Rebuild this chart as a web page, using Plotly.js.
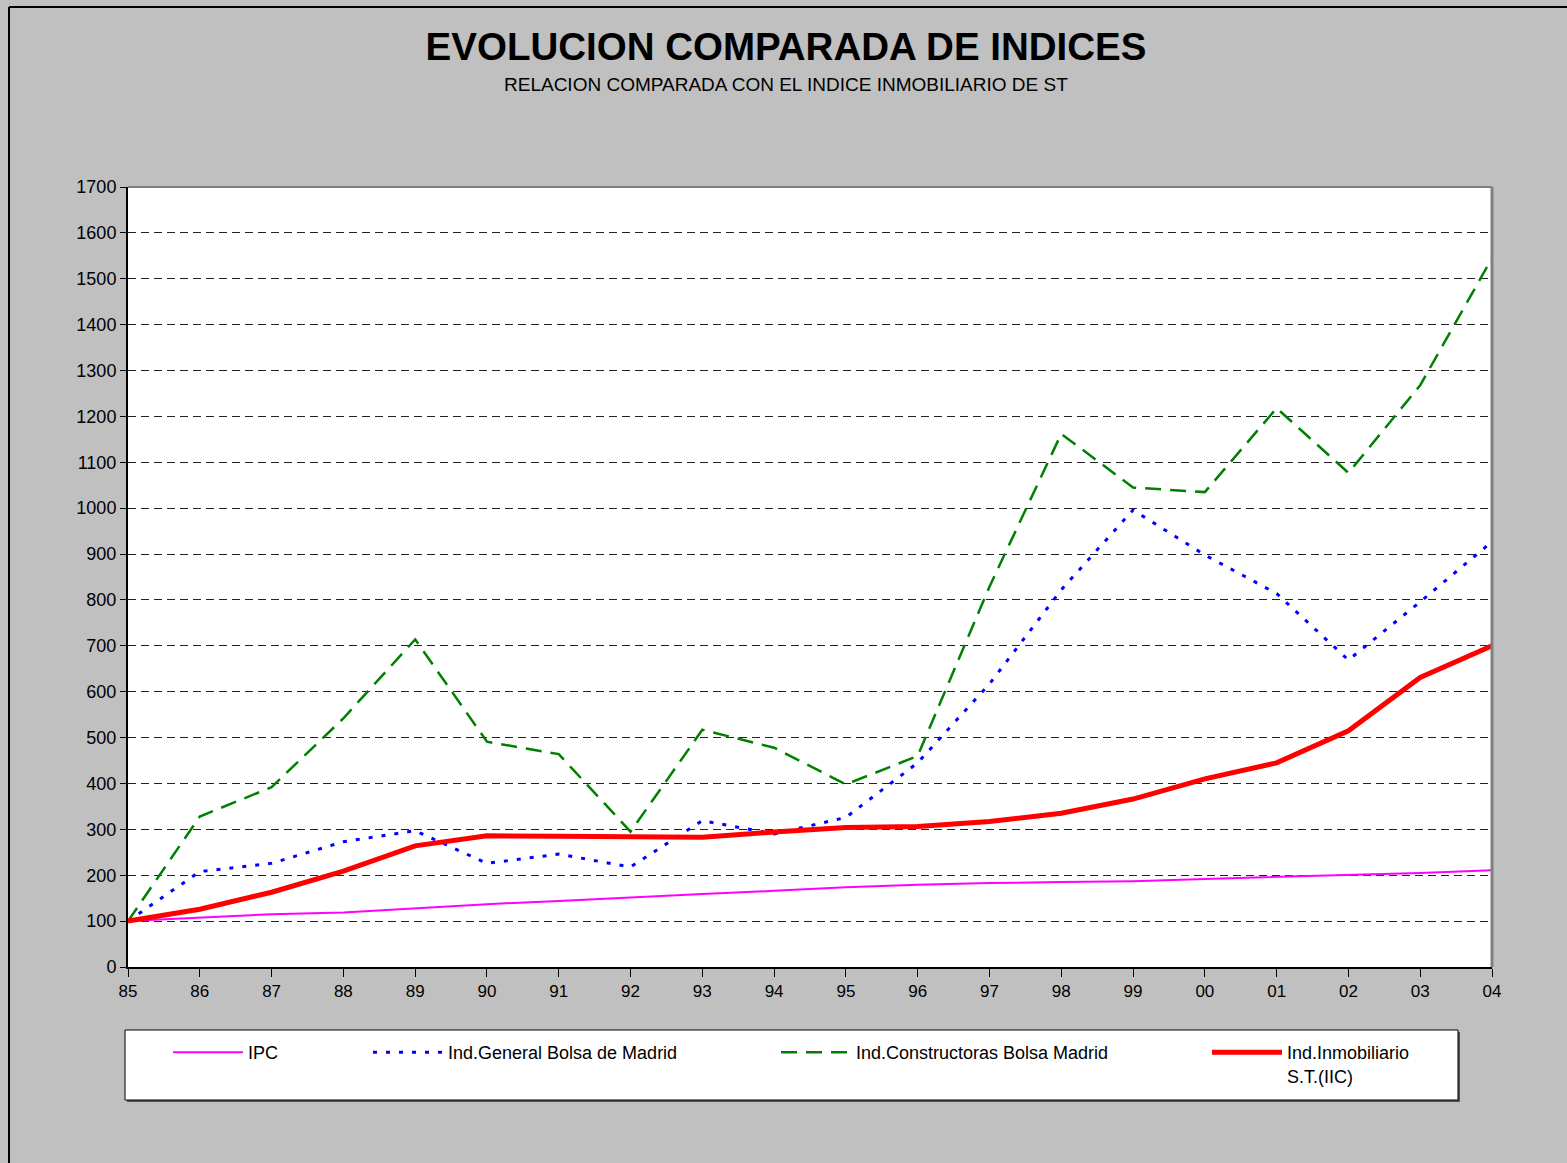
<!DOCTYPE html>
<html>
<head>
<meta charset="utf-8">
<script src="https://cdn.plot.ly/plotly-3.0.1.min.js"></script>
<style>
html,body{margin:0;padding:0;background:#C0C0C0;}
#chart{width:1567px;height:1163px;}
</style>
</head>
<body>
<div id="chart"></div>
<script>
const years = ["85","86","87","88","89","90","91","92","93","94","95","96","97","98","99","00","01","02","03","04"];
const ipc = [100,108,115,119,128,137,144,152,159,166,174,179,183,185,187,192,196,200,205,211];
const bolsaGeneral = [100,208,226,273,297,226,246,218,319,290,326,445,617,822,996,898,814,669,796,927];
const constructoras = [100,328,392,542,714,491,464,295,517,478,398,460,829,1162,1045,1035,1218,1077,1268,1545];
const inmobiliario = [100,126,163,209,264,286,285,283,283,294,304,306,317,335,366,410,445,515,631,700];
const seriesNames = ["IPC","Ind.General Bolsa de Madrid","Ind.Constructoras Bolsa Madrid","Ind.Inmobiliario<br>S.T.(IIC)"];
const yTicks = [0,100,200,300,400,500,600,700,800,900,1000,1100,1200,1300,1400,1500,1600,1700];

const FONT = "Liberation Sans, Arial, sans-serif";
const L = 128, R = 1492, T = 187, B = 967, W = 1567, H = 1163;
const px = x => (x - L) / (R - L);
const py = y => (B - y) / (B - T);

const traces = [
  {x: years, y: ipc, name: seriesNames[0], mode: "lines", line: {color: "#FF00FF", width: 2}, legend: "legend"},
  {x: years, y: bolsaGeneral, name: seriesNames[1], mode: "lines", line: {color: "#0000FF", width: 3, dash: "4px,9px"}, legend: "legend2"},
  {x: years, y: constructoras, name: seriesNames[2], mode: "lines", line: {color: "#008000", width: 2.5, dash: "16px,9px"}, legend: "legend3"},
  {x: years, y: inmobiliario, name: seriesNames[3], mode: "lines", line: {color: "#FF0000", width: 5}, legend: "legend4"}
];

const legBase = {orientation: "h", bgcolor: "rgba(0,0,0,0)", borderwidth: 0, font: {family: FONT, size: 18, color: "#000"}, itemwidth: 70, xanchor: "left", yanchor: "top", valign: "top", itemclick: false, itemdoubleclick: false};

const layout = {
  width: W, height: H,
  paper_bgcolor: "#C0C0C0",
  plot_bgcolor: "#FFFFFF",
  margin: {l: L, r: W - R, t: T, b: H - B, pad: 0},
  font: {family: FONT, color: "#000"},
  title: {text: "<b>EVOLUCION COMPARADA DE INDICES</b>", font: {family: FONT, size: 38.5, color: "#000"}, x: 786 / W, xanchor: "center", xref: "container", y: 1 - 47 / H, yanchor: "middle", yref: "container"},
  showlegend: true,
  legend: Object.assign({}, legBase, {x: px(168), y: py(1034)}),
  legend2: Object.assign({}, legBase, {x: px(368), y: py(1034)}),
  legend3: Object.assign({}, legBase, {x: px(776), y: py(1034)}),
  legend4: Object.assign({}, legBase, {x: px(1207), y: py(1034)}),
  xaxis: {
    type: "category", range: [0, years.length - 1],
    showgrid: false, zeroline: false,
    showline: true, linecolor: "#000", linewidth: 2,
    ticks: "outside", ticklen: 8, tickwidth: 1, tickcolor: "#000",
    tickfont: {family: FONT, size: 17, color: "#000"},
    fixedrange: true
  },
  yaxis: {
    range: [0, 1700], tickvals: yTicks, ticktext: yTicks.map(String),
    showgrid: true, gridcolor: "#222", gridwidth: 1, griddash: "8px,5px",
    zeroline: false,
    showline: true, linecolor: "#000", linewidth: 2,
    ticks: "outside", ticklen: 6, tickwidth: 1, tickcolor: "#000",
    tickfont: {family: FONT, size: 18, color: "#000"},
    fixedrange: true
  },
  annotations: [
    {text: "RELACION COMPARADA CON EL INDICE INMOBILIARIO DE ST", xref: "paper", yref: "paper", x: px(786), y: py(84), xanchor: "center", yanchor: "middle", showarrow: false, font: {family: FONT, size: 19, color: "#000"}}
  ],
  shapes: [
    {type: "line", xref: "paper", yref: "paper", x0: px(9), x1: px(9), y0: py(1170), y1: py(7), line: {color: "#000", width: 2}},
    {type: "line", xref: "paper", yref: "paper", x0: px(9), x1: px(1575), y0: py(7), y1: py(7), line: {color: "#000", width: 2}},
    {type: "line", xref: "paper", yref: "paper", x0: 0, x1: 1, y0: 1, y1: 1, line: {color: "#808080", width: 2}},
    {type: "line", xref: "paper", yref: "paper", x0: 1, x1: 1, y0: 0, y1: 1, line: {color: "#808080", width: 3}},
    {type: "rect", xref: "paper", yref: "paper", x0: px(127), x1: px(1460), y0: py(1102), y1: py(1032), line: {width: 0}, fillcolor: "#555", layer: "below"},
    {type: "rect", xref: "paper", yref: "paper", x0: px(125), x1: px(1458), y0: py(1100), y1: py(1030), line: {color: "#000", width: 1}, fillcolor: "#FFFFFF", layer: "below"}
  ]
};

Plotly.newPlot("chart", traces, layout, {displayModeBar: false, staticPlot: true});
</script>
</body>
</html>
